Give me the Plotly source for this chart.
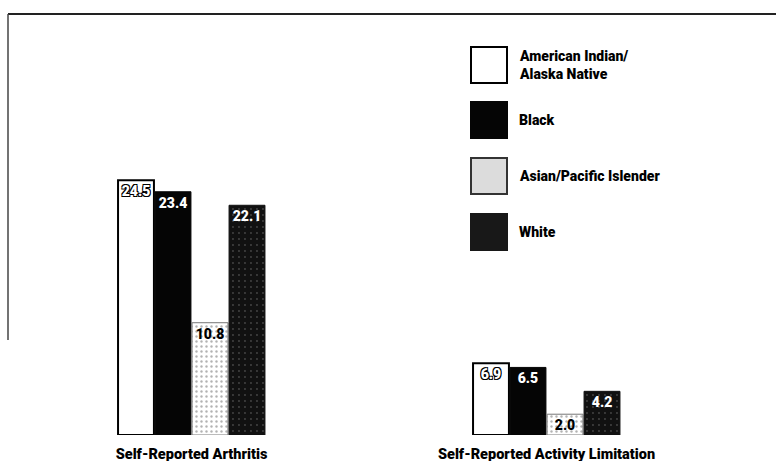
import plotly.graph_objects as go

# Categories, series and values
categories = ["Self-Reported Arthritis", "Self-Reported Activity Limitation"]
series_names = ["American Indian/<br>Alaska Native", "Black", "Asian/Pacific Islender", "White"]
ai_an = [24.5, 6.9]
black = [23.4, 6.5]
asian_pi = [10.8, 2.0]
white = [22.1, 4.2]
series_values = [ai_an, black, asian_pi, white]

FONT = "Roboto, Liberation Sans, Arial, sans-serif"
OUTLINE = "-1px -1px 0 #000, 1px -1px 0 #000, -1px 1px 0 #000, 1px 1px 0 #000"

styles = [
    dict(color="white", line=dict(color="black", width=2),
         text_color="white", shadow=OUTLINE,
         legend_fill="white", legend_line="black"),
    dict(color="#050505", line=dict(color="#050505", width=1),
         text_color="white", shadow="none",
         legend_fill="#050505", legend_line="#050505"),
    dict(color="white", line=dict(color="#777", width=1),
         pattern=dict(shape=".", bgcolor="white", fgcolor="#666", size=5, solidity=0.18),
         text_color="black", shadow="none",
         legend_fill="#dcdcdc", legend_line="#333"),
    dict(color="#111", line=dict(color="#111", width=1),
         pattern=dict(shape=".", bgcolor="#111", fgcolor="#777", size=6, solidity=0.08),
         text_color="white", shadow="none",
         legend_fill="#181818", legend_line="#181818"),
]

fig = go.Figure()
for name, vals, st in zip(series_names, series_values, styles):
    marker = dict(color=st["color"], line=st["line"])
    if "pattern" in st:
        marker["pattern"] = st["pattern"]
    fig.add_trace(go.Bar(
        x=categories, y=vals, name=name.replace("<br>", " "),
        marker=marker,
        text=[f"{v:.1f}" for v in vals],
        textposition="inside", insidetextanchor="end",
        textangle=0, constraintext="none",
        textfont=dict(family=FONT, size=14, color=st["text_color"],
                      weight=900, shadow=st["shadow"]),
        showlegend=False,
    ))

# Hand-drawn key on the right
legend_tops = [47, 102, 158, 214]
H = 461
W = 776
for name, st, top in zip(series_names, styles, legend_tops):
    fig.add_shape(type="rect", xref="paper", yref="paper",
                  x0=(471 - 14) / 710, x1=(507 - 14) / 710,
                  y0=(435 - (top + 36)) / 421, y1=(435 - top) / 421,
                  fillcolor=st["legend_fill"],
                  line=dict(color=st["legend_line"], width=2))
    fig.add_annotation(xref="paper", yref="paper",
                       x=(517 - 14) / 710, y=(435 - (top + 18)) / 421,
                       text=name, showarrow=False, xanchor="left", yanchor="middle",
                       align="left",
                       font=dict(family=FONT, size=14, color="black", weight=900))

# Frame lines along top and left edge
fig.add_shape(type="line", xref="paper", yref="paper",
              x0=(8 - 14) / 710, x1=(776 - 14) / 710, y0=(435 - 14) / 421, y1=(435 - 14) / 421,
              line=dict(color="#222", width=2))
fig.add_shape(type="line", xref="paper", yref="paper",
              x0=(8 - 14) / 710, x1=(8 - 14) / 710, y0=(435 - 14) / 421, y1=(435 - 340) / 421,
              line=dict(color="#444", width=1.5))

fig.update_layout(
    width=W, height=H,
    margin=dict(l=14, r=52, t=14, b=26),
    paper_bgcolor="white", plot_bgcolor="white",
    barmode="group", bargap=0.583, bargroupgap=0.03,
    font=dict(family=FONT, color="black"),
    xaxis=dict(showgrid=False, zeroline=False, showline=False, ticks="",
               range=[-0.5, 1.5], ticklabelstandoff=8, automargin=False,
               tickfont=dict(family=FONT, size=14.5, color="black", weight=900)),
    yaxis=dict(range=[0, 40.5], visible=False, showgrid=False, zeroline=False),
)

fig.write_html("out.html")
